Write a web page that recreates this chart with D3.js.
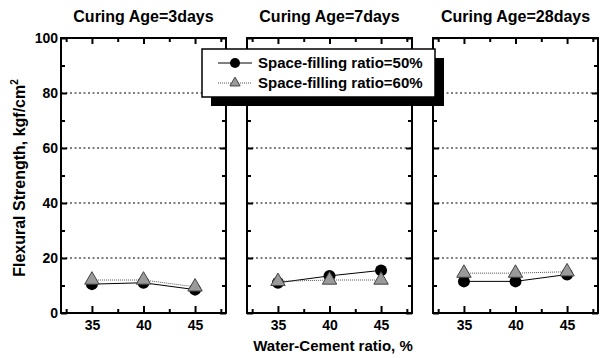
<!DOCTYPE html>
<html>
<head>
<meta charset="utf-8">
<script src="https://cdn.jsdelivr.net/npm/d3@7"></script>
<style>
  body { margin: 0; background: #fff; }
  text { font-family: "Liberation Sans", Arial, sans-serif; font-weight: bold; fill: #000; }
</style>
</head>
<body>
<svg width="603" height="358"></svg>
<script>
// data
var wcRatio = [35, 40, 45];
var panelTitles = ["Curing Age=3days", "Curing Age=7days", "Curing Age=28days"];
var seriesNames = ["Space-filling ratio=50%", "Space-filling ratio=60%"];
var sf50 = [[10.5, 11, 8.5], [11, 13.5, 15.5], [11.5, 11.5, 14]];
var sf60 = [[12, 12, 9.5], [11.5, 12, 12], [14.5, 14.5, 15]];
var yMajor = [0, 20, 40, 60, 80, 100];
var yMinor = [10, 30, 50, 70, 90];
var xMinor = [32.5, 37.5, 42.5, 47.5];

var svg = d3.select("svg");
var plotTop = 38, plotBottom = 313;

var panelX = d3.scaleBand()
    .domain(d3.range(panelTitles.length))
    .range([61, 598])
    .paddingInner(0.113);
var w = panelX.bandwidth();
var h = plotBottom - plotTop;

var x = d3.scaleLinear().domain([32, 48]).range([0, w]);
var y = d3.scaleLinear().domain([0, 100]).range([h, 0]);

var line = d3.line()
    .x(function(d, i) { return x(wcRatio[i]); })
    .y(function(d) { return y(d); });

var tri = d3.symbol().type(d3.symbolTriangle).size(90);

panelTitles.forEach(function(title, p) {
    var g = svg.append("g")
        .attr("transform", "translate(" + panelX(p) + "," + plotTop + ")");

    // dotted grid
    g.selectAll(".grid")
        .data([20, 40, 60, 80])
        .enter().append("line")
        .attr("x1", 0).attr("x2", w)
        .attr("y1", function(d) { return y(d); })
        .attr("y2", function(d) { return y(d); })
        .attr("stroke", "#000")
        .attr("stroke-width", 1)
        .attr("stroke-dasharray", "2,2.5");

    // inward ticks on all four sides
    var axes = [
        {ax: d3.axisLeft(y).tickValues(yMajor).tickSize(-6), tr: null, lab: p == 0},
        {ax: d3.axisLeft(y).tickValues(yMinor).tickSize(-4), tr: null, lab: false},
        {ax: d3.axisRight(y).tickValues(yMajor).tickSize(-6), tr: "translate(" + w + ",0)", lab: false},
        {ax: d3.axisRight(y).tickValues(yMinor).tickSize(-4), tr: "translate(" + w + ",0)", lab: false},
        {ax: d3.axisBottom(x).tickValues(wcRatio).tickSize(-7).tickPadding(7), tr: "translate(0," + h + ")", lab: true},
        {ax: d3.axisBottom(x).tickValues(xMinor).tickSize(-4), tr: "translate(0," + h + ")", lab: false},
        {ax: d3.axisTop(x).tickValues(wcRatio).tickSize(-6), tr: null, lab: false},
        {ax: d3.axisTop(x).tickValues(xMinor).tickSize(-4), tr: null, lab: false}
    ];
    axes.forEach(function(a) {
        var ag = g.append("g").call(a.ax);
        if (a.tr) ag.attr("transform", a.tr);
        ag.select(".domain").remove();
        ag.selectAll("line").attr("stroke", "#000").attr("stroke-width", 2);
        if (!a.lab) ag.selectAll("text").remove();
        else ag.selectAll("text")
            .style("font-size", "14px")
            .style("font-family", "Liberation Sans, Arial, sans-serif")
            .style("font-weight", "bold")
            .attr("fill", "#000");
    });

    g.append("rect")
        .attr("width", w).attr("height", h)
        .attr("fill", "none")
        .attr("stroke", "#000")
        .attr("stroke-width", 2);

    g.append("text")
        .attr("x", w / 2).attr("y", -16)
        .attr("text-anchor", "middle")
        .style("font-size", "16px")
        .text(title);

    // series 50%
    g.append("path")
        .attr("d", line(sf50[p]))
        .attr("fill", "none").attr("stroke", "#000").attr("stroke-width", 1);
    // series 60%
    g.append("path")
        .attr("d", line(sf60[p]))
        .attr("fill", "none").attr("stroke", "#555").attr("stroke-width", 1)
        .attr("stroke-dasharray", "1,1");

    g.selectAll(".c")
        .data(sf50[p])
        .enter().append("circle")
        .attr("cx", function(d, i) { return x(wcRatio[i]); })
        .attr("cy", function(d) { return y(d); })
        .attr("r", 6)
        .attr("fill", "#000");

    g.selectAll(".t")
        .data(sf60[p])
        .enter().append("path")
        .attr("d", tri)
        .attr("transform", function(d, i) { return "translate(" + x(wcRatio[i]) + "," + y(d) + ")"; })
        .attr("fill", "#9a9a9a")
        .attr("stroke", "#444")
        .attr("stroke-width", 1);
});

// axis titles
svg.append("text")
    .attr("x", 333).attr("y", 351)
    .attr("text-anchor", "middle")
    .style("font-size", "15px")
    .text("Water-Cement ratio, %");

var yt = svg.append("text")
    .attr("transform", "translate(25,178) rotate(-90)")
    .attr("text-anchor", "middle")
    .style("font-size", "16px");
yt.append("tspan").text("Flexural Strength, kgf/cm");
yt.append("tspan").attr("dy", -7).style("font-size", "10px").text("2");

// legend with drop shadow
var lg = svg.append("g").attr("transform", "translate(202,49)");
lg.append("rect").attr("x", 9).attr("y", 9).attr("width", 233).attr("height", 48).attr("fill", "#000");
lg.append("rect").attr("width", 233).attr("height", 48)
    .attr("fill", "#fff").attr("stroke", "#000").attr("stroke-width", 1.5);

seriesNames.forEach(function(name, i) {
    var ly = 14 + i * 20;
    lg.append("line")
        .attr("x1", 16).attr("x2", 50).attr("y1", ly).attr("y2", ly)
        .attr("stroke", i == 0 ? "#000" : "#555")
        .attr("stroke-width", 1)
        .attr("stroke-dasharray", i == 0 ? null : "1,1");
    if (i == 0) {
        lg.append("circle").attr("cx", 33).attr("cy", ly).attr("r", 5).attr("fill", "#000");
    } else {
        lg.append("path").attr("d", d3.symbol().type(d3.symbolTriangle).size(45))
            .attr("transform", "translate(33," + ly + ")")
            .attr("fill", "#9a9a9a").attr("stroke", "#444");
    }
    lg.append("text")
        .attr("x", 56).attr("y", ly + 5)
        .style("font-size", "15px")
        .text(name);
});
</script>
</body>
</html>
